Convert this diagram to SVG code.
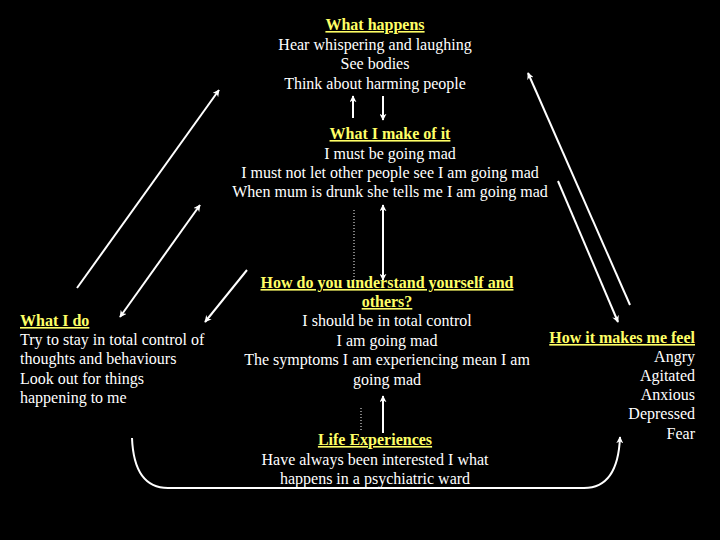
<svg xmlns="http://www.w3.org/2000/svg" width="720" height="540" viewBox="0 0 720 540">
<defs>
<marker id="ah" viewBox="0 0 10 10" refX="9" refY="5" markerWidth="7" markerHeight="7" orient="auto-start-reverse" markerUnits="userSpaceOnUse">
<path d="M0,0 L10,5 L0,10 L3,5 Z" fill="#fff"/>
</marker>
</defs>
<style>
text{font-family:"Liberation Serif","Times New Roman",serif;font-size:16px;fill:#fff}
.h{font-weight:bold;fill:#ffff66;text-decoration:underline}
.c{text-anchor:middle}
.r{text-anchor:end}
.ln{stroke:#fff;stroke-width:2;fill:none}
.dot{stroke:#fff;stroke-width:1;stroke-dasharray:1 2;fill:none}
</style>
<rect width="720" height="540" fill="#000"/>
<g id="connectors">
<line class="ln" x1="77" y1="288" x2="219" y2="90" marker-end="url(#ah)"/>
<line class="ln" x1="200" y1="205" x2="120" y2="317" marker-start="url(#ah)" marker-end="url(#ah)"/>
<line class="ln" x1="247" y1="270" x2="205" y2="322" marker-end="url(#ah)"/>
<line class="ln" x1="630" y1="305" x2="528" y2="73" marker-end="url(#ah)"/>
<line class="ln" x1="558" y1="181" x2="618" y2="322" marker-end="url(#ah)"/>
<line class="ln" x1="353" y1="118" x2="353" y2="96" marker-end="url(#ah)"/>
<line class="ln" x1="383" y1="96" x2="383" y2="120" marker-end="url(#ah)"/>
<line class="ln" x1="383" y1="205" x2="383" y2="280" marker-start="url(#ah)" marker-end="url(#ah)"/>
<line class="dot" x1="354" y1="210" x2="354" y2="282"/>
<line class="ln" x1="383" y1="433" x2="383" y2="396" marker-end="url(#ah)"/>
<line class="dot" x1="361" y1="408" x2="361" y2="432"/>
<path class="ln" d="M132,438 Q134,488 168,488 L584,488 Q618,488 620,437" marker-end="url(#ah)"/>
</g>
<g id="what-happens">
<text class="h c" x="375" y="30">What happens</text>
<text class="c" x="375" y="50">Hear whispering and laughing</text>
<text class="c" x="375" y="69">See bodies</text>
<text class="c" x="375" y="89">Think about harming people</text>
</g>
<g id="what-i-make-of-it">
<text class="h c" x="390" y="139">What I make of it</text>
<text class="c" x="390" y="159">I must be going mad</text>
<text class="c" x="390" y="178">I must not let other people see I am going mad</text>
<text class="c" x="390" y="197">When mum is drunk she tells me I am going mad</text>
</g>
<g id="what-i-do">
<text class="h" x="20" y="326">What I do</text>
<text x="20" y="345">Try to stay in total control of</text>
<text x="20" y="364">thoughts and behaviours</text>
<text x="20" y="384">Look out for things</text>
<text x="20" y="403">happening to me</text>
</g>
<g id="understand">
<text class="h c" x="387" y="288">How do you understand yourself and</text>
<text class="h c" x="387" y="307">others?</text>
<text class="c" x="387" y="326">I should be in total control</text>
<text class="c" x="387" y="346">I am going mad</text>
<text class="c" x="387" y="365">The symptoms I am experiencing mean I am</text>
<text class="c" x="387" y="385">going mad</text>
</g>
<g id="feel">
<text class="h r" x="695" y="343">How it makes me feel</text>
<text class="r" x="695" y="362">Angry</text>
<text class="r" x="695" y="381">Agitated</text>
<text class="r" x="695" y="400">Anxious</text>
<text class="r" x="695" y="419">Depressed</text>
<text class="r" x="695" y="439">Fear</text>
</g>
<g id="life-experiences">
<text class="h c" x="375" y="445">Life Experiences</text>
<text class="c" x="375" y="465">Have always been interested I what</text>
<text class="c" x="375" y="484">happens in a psychiatric ward</text>
</g>
</svg>
